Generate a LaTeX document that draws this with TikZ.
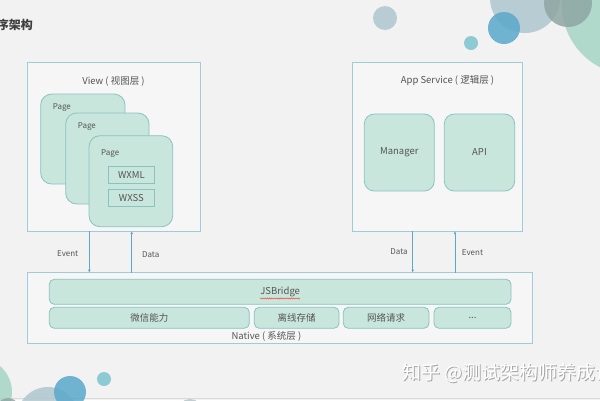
\documentclass[tikz,border=0pt]{standalone}
\usepackage{fontspec}
\setmainfont{Noto Sans CJK SC}
\usetikzlibrary{positioning,arrows.meta,decorations.pathmorphing}

\definecolor{bg}{HTML}{F2F2F2}
\definecolor{mint}{HTML}{C8E6DB}
\definecolor{mintline}{HTML}{88C3BF}
\definecolor{frameline}{HTML}{9ECCDC}
\definecolor{txt}{HTML}{555555}
\definecolor{flowline}{HTML}{5FA7C4}
\definecolor{dotgreen}{HTML}{A5D5C6}
\definecolor{dotgrey}{HTML}{AFC7CE}
\definecolor{dotdark}{HTML}{8FA6A3}
\definecolor{dotblue}{HTML}{5AA8CB}
\definecolor{dotcyan}{HTML}{7CC4CF}

\tikzset{
  layer/.style={draw=frameline, line width=.8pt, fill=white, fill opacity=.35,
    anchor=north west, inner sep=0pt, outer sep=0pt},
  pagebox/.style={draw=mintline, line width=.8pt, fill=mint, rounded corners=11pt,
    anchor=north west, inner sep=0pt, outer sep=0pt},
  module/.style={draw=mintline, line width=.8pt, fill=mint, rounded corners=10pt,
    anchor=north west, inner sep=0pt, outer sep=0pt, text=txt, font=\fontsize{9.5}{11}\selectfont},
  filebox/.style={draw=mintline, line width=.8pt, fill=mint, anchor=north west,
    inner sep=0pt, outer sep=0pt, minimum width=46.7pt, text=txt, font=\fontsize{9.5}{11}\selectfont},
  barbox/.style={draw=mintline, line width=.8pt, fill=mint, rounded corners=5pt,
    inner sep=0pt, outer sep=0pt, minimum height=21pt, text=txt, font=\fontsize{9.5}{11}\selectfont},
  lbl/.style={text=txt, inner sep=0pt, font=\fontsize{9.5}{11}\selectfont},
  small/.style={text=txt, inner sep=0pt, font=\fontsize{8}{10}\selectfont},
  flow/.style={draw=flowline, line width=.7pt, -{Latex[length=3pt,width=2.6pt]}},
  dot/.style={fill=#1, draw=none}
}

\begin{document}
\begin{tikzpicture}[x=1pt,y=-1pt]
  \useasboundingbox (0,0) rectangle (600,400);
  \fill[bg] (0,0) rectangle (600,400);
  \draw[black!15, line width=.8pt] (0,398) -- (600,398);

  % decoration circles
  \begin{scope}[fill opacity=.85]
    \fill[dot=dotgreen] (632,5) circle (70);
    \fill[dot=dotgrey] (525,-2) circle (35);
    \fill[dot=dotdark] (568,3) circle (24);
    \fill[dot=dotblue] (504,28) circle (16);
    \fill[dot=dotgrey] (385,18) circle (12);
    \fill[dot=dotcyan] (471,43) circle (7);
    \fill[dot=dotgreen] (-22,392) circle (34);
    \fill[dot=dotgrey] (48,418) circle (31);
    \fill[dot=dotdark] (8,410) circle (12);
    \fill[dot=dotblue] (70,392) circle (16);
    \fill[dot=dotcyan] (104,379) circle (7);
    \fill[dot=dotgrey] (190,412) circle (13);
  \end{scope}

  \node[anchor=east, inner sep=0pt, text=black!75, font=\bfseries\fontsize{12}{14}\selectfont]
    (title) at (33,25) {程序架构};

  % view layer
  \node[layer, minimum width=173pt, minimum height=169pt] (view) at (27,62) {};
  \node[lbl] (viewlbl) at ([yshift=-19pt]view.north) {View ( 视图层 )};
  \node[pagebox, minimum width=84.3pt, minimum height=90pt] (page1) at (40.7,94) {};
  \node[pagebox, minimum width=83.3pt, minimum height=91pt] (page2) at (65.7,113) {};
  \node[pagebox, minimum width=83.7pt, minimum height=91pt] (page3) at (89,135.7) {};
  \foreach \p/\dy in {page1/14,page2/14,page3/17.5}
    \node[small, anchor=west] at ([shift={(12pt,-\dy pt)}]\p.north west) {Page};
  \node[filebox, minimum height=16.7pt] (wxml) at (108,166.7) {WXML};
  \node[filebox, minimum height=17.4pt] (wxss) at (108,189.3) {WXSS};

  % app service layer
  \node[layer, minimum width=169.6pt, minimum height=169pt] (app) at (352.7,62) {};
  \node[lbl] (applbl) at ([xshift=10pt,yshift=-19pt]app.north) {App Service ( 逻辑层 )};
  \node[module, minimum width=70pt, minimum height=77pt] (manager) at (364.3,114) {Manager};
  \node[module, minimum width=70.4pt, minimum height=77pt] (api) at (444.3,114) {API};

  % native layer
  \node[layer, minimum width=505.2pt, minimum height=70.3pt] (native) at (27.3,272.7) {};
  \node[barbox, anchor=north west, minimum width=461.7pt, minimum height=25pt] (bridge) at (49.3,279.3) {};
  \node[lbl] (bridgelbl) at (bridge.center) {JSBridge};
  \draw[red!80, line width=.4pt, decorate, decoration={snake, amplitude=.6pt, segment length=2.2pt}]
    ([yshift=-1.5pt]bridgelbl.south west) -- ([yshift=-1.5pt]bridgelbl.south east);
  \node[barbox, anchor=north west, minimum width=200pt] (wechat) at (49.3,307.3) {微信能力};
  \node[barbox, minimum width=84.7pt, right=5pt of wechat] (storage) {离线存储};
  \node[barbox, minimum width=85.7pt, right=4.3pt of storage] (network) {网络请求};
  \node[barbox, minimum width=77pt, right=5pt of network] (more) {...};
  \node[lbl] (nativelbl) at ([xshift=-13.5pt,yshift=7pt]native.south) {Native ( 系统层 )};

  % data flow
  \draw[flow] ([xshift=62.3pt]view.south west) -- ([xshift=62.3pt]view.south west |- native.north);
  \draw[flow] ([xshift=104.7pt]view.south west |- native.north) -- ([xshift=104.7pt]view.south west);
  \draw[flow] ([xshift=60pt]app.south west) -- ([xshift=60pt]app.south west |- native.north);
  \draw[flow] ([xshift=102.3pt]app.south west |- native.north) -- ([xshift=102.3pt]app.south west);
  \node[small] (evleft) at (67.7,254) {Event};
  \node[small] (dtleft) at (150.7,255) {Data};
  \node[small] (dtright) at (399,251.7) {Data};
  \node[small] (evright) at (472.5,253) {Event};

  % watermark
  \node[anchor=west, inner sep=0pt, text=black!35, font=\fontsize{19}{21}\selectfont]
    at (403,373.8) {知乎 @测试架构师养成记};
  \node[anchor=west, inner sep=0pt, text=white, font=\fontsize{19}{21}\selectfont]
    (mark) at (402.3,373) {知乎 @测试架构师养成记};
\end{tikzpicture}
\end{document}
